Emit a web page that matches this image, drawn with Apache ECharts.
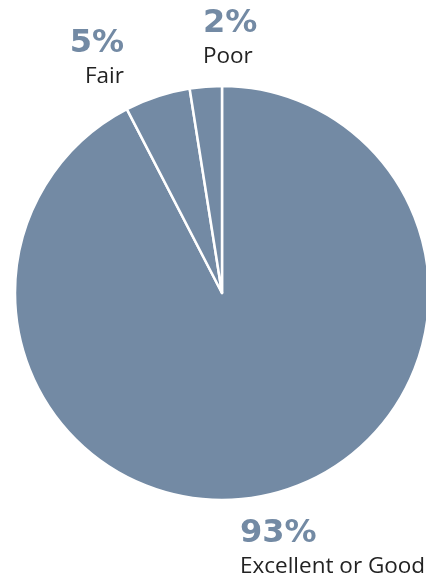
<!DOCTYPE html>
<html><head><meta charset="utf-8">
<script src="https://cdn.jsdelivr.net/npm/echarts@6/dist/echarts.min.js"></script>
<style>html,body{margin:0;padding:0;background:#fff}#c{width:426px;height:578px}</style>
</head><body><div id="c"></div>
<script>
const categories = ["Excellent or Good", "Fair", "Poor"];
const values = [92.4, 5.1, 2.5];
const percentLabels = ["93%", "5%", "2%"];
const labelPos = [
  {x: 240, y: 517, align: 'left'},
  {x: 124, y: 27, align: 'right'},
  {x: 203, y: 7, align: 'left'}
];
const chart = echarts.init(document.getElementById('c'));
chart.setOption({
  animation: false,
  series: [{
    type: 'pie',
    center: [222, 293],
    radius: [0, 207],
    startAngle: 90,
    clockwise: true,
    silent: true,
    data: categories.map((n, i) => ({name: n, value: values[i]})),
    itemStyle: {color: '#738aa4', borderColor: '#fff', borderWidth: 2.5},
    labelLine: {show: false},
    label: {
      show: true,
      position: 'inside',
      overflow: 'none',
      formatter: p => '{p|' + percentLabels[p.dataIndex] + '}\n{n|' + p.name + '}',
      rich: {
        p: {fontFamily: 'DejaVu Sans', fontWeight: 'bold', fontSize: 32, color: '#738aa4', lineHeight: 34},
        n: {fontFamily: 'Open Sans', fontSize: 22.5, color: '#222', lineHeight: 32}
      }
    },
    labelLayout: p => {
      const lp = labelPos[p.dataIndex];
      return {x: lp.x, y: lp.y, align: lp.align, verticalAlign: 'top'};
    }
  }]
});
</script></body></html>
